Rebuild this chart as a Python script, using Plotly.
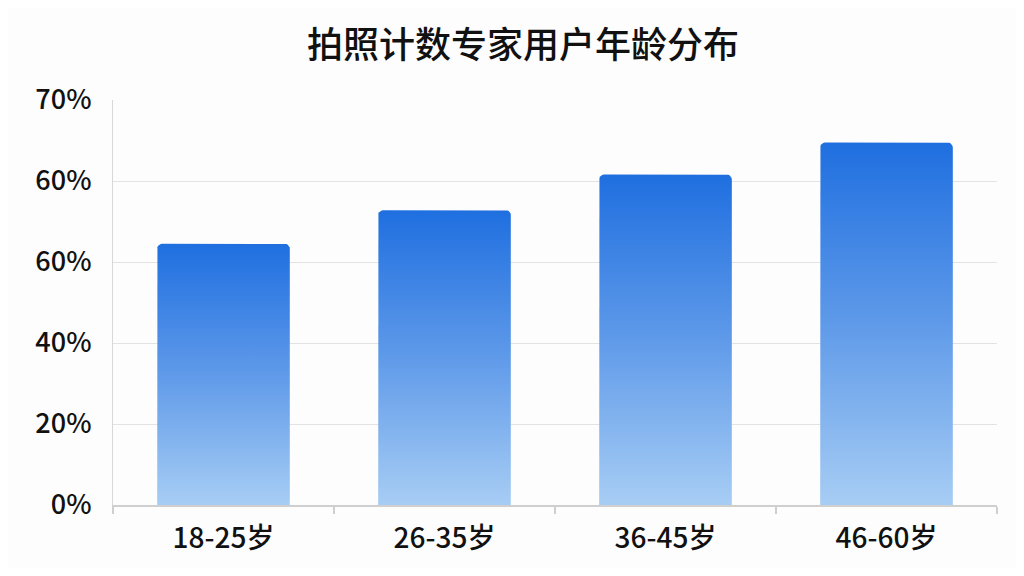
import numpy as np
import plotly.graph_objects as go

title = "拍照计数专家用户年龄分布"
categories = ["18-25岁", "26-35岁", "36-45岁", "46-60岁"]
values = [64.5, 72.8, 81.6, 89.5]
ytick_vals = [0, 20, 40, 60, 80, 100]
ytick_text = ["0%", "20%", "40%", "60%", "60%", "70%"]

FONT = "Noto Sans CJK SC"
W, H = 1008, 560
ML, MR, MT, MB = 105, 19, 92, 56
plot_w = W - ML - MR
plot_h = H - MT - MB
x_range = [-0.5, len(categories) - 0.5]
y_range = [0, 100]
px_x = plot_w / (x_range[1] - x_range[0])
px_y = plot_h / (y_range[1] - y_range[0])

half = 0.3
radius_px = 5
rx = radius_px / px_x
ry = radius_px / px_y


def bar_outline(i, v):
    xl, xr = i - half, i + half
    xs = [xl, xl]
    ys = [0, v - ry]
    for a in np.linspace(np.pi, np.pi / 2, 6):
        xs.append(xl + rx + rx * np.cos(a))
        ys.append(v - ry + ry * np.sin(a))
    for a in np.linspace(np.pi / 2, 0, 6):
        xs.append(xr - rx + rx * np.cos(a))
        ys.append(v - ry + ry * np.sin(a))
    xs += [xr, xr, xl]
    ys += [v - ry, 0, 0]
    return xs, ys


fig = go.Figure()
for i, (c, v) in enumerate(zip(categories, values)):
    xs, ys = bar_outline(i, v)
    fig.add_trace(go.Scatter(
        x=xs, y=ys, mode="lines", fill="toself",
        line=dict(width=0, color="rgba(0,0,0,0)"),
        fillgradient=dict(type="vertical",
                          colorscale=[[0, "#a7cdf4"], [0.5, "#5f9ae9"], [1, "#1f6fe0"]]),
        hoverinfo="skip", showlegend=False, name=c,
    ))

fig.update_layout(
    width=W, height=H,
    margin=dict(l=ML, r=MR, t=MT, b=MB),
    paper_bgcolor="#fdfdfd", plot_bgcolor="#fdfdfd",
    font=dict(family=FONT, color="#111111"),
    title=dict(text=title, x=0.511, xanchor="center", y=1 - 37 / H, yanchor="middle",
               font=dict(family=FONT, size=36, color="#111111", weight=500)),
    showlegend=False,
)
fig.update_xaxes(
    range=x_range, tickvals=list(range(len(categories))), ticktext=categories,
    ticks="", showgrid=False, zeroline=False,
    showline=True, linecolor="#cfcfcf", linewidth=1.5,
    tickfont=dict(family=FONT, size=28, color="#111111", weight=500),
    ticklabelstandoff=8,
    minor=dict(tickvals=[k - 0.5 for k in range(len(categories) + 1)],
               ticks="outside", ticklen=7, tickcolor="#cfcfcf", tickwidth=1.5, showgrid=False),
    fixedrange=True,
)
fig.update_yaxes(
    range=y_range, tickvals=ytick_vals, ticktext=ytick_text,
    ticks="", showgrid=True, gridcolor="#e3e3e3", gridwidth=1.2, zeroline=False,
    showline=True, linecolor="#d8d8d8", linewidth=1.2,
    tickfont=dict(family=FONT, size=27, color="#111111", weight=500),
    ticklabelstandoff=15,
    fixedrange=True,
)

fig.write_html("out.html")
